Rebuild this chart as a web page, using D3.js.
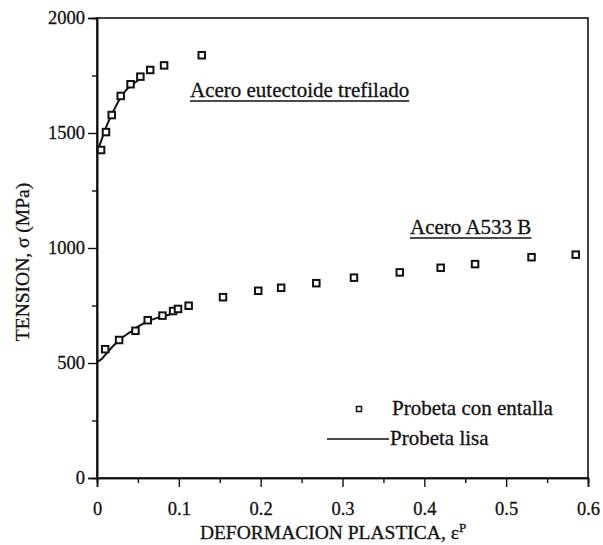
<!DOCTYPE html>
<html><head><meta charset="utf-8">
<script src="https://cdn.jsdelivr.net/npm/d3@7"></script>
<style>
body{margin:0;background:#fff}
text{font-family:"Liberation Serif","Times New Roman",serif;fill:#111;stroke:#111;stroke-width:0.3px}
</style>
</head><body>
<svg id="c" width="603" height="545"></svg>
<script>
// ---- data ----
const xTickValues = [0, 0.1, 0.2, 0.3, 0.4, 0.5, 0.6];
const xTickLabels = ["0", "0.1", "0.2", "0.3", "0.4", "0.5", "0.6"];
const yTickValues = [0, 500, 1000, 1500, 2000];
const yTickLabels = ["0", "500", "1000", "1500", "2000"];
const xMinor = [0.05, 0.15, 0.25, 0.35, 0.45, 0.55];
const yMinor = [250, 750, 1250, 1750];

// Acero eutectoide trefilado - Probeta con entalla (squares)
const eutStrain = [0.005, 0.011, 0.018, 0.029, 0.041, 0.053, 0.065, 0.082, 0.128];
const eutStress = [1426, 1504, 1578, 1661, 1712, 1745, 1774, 1794, 1838];
// Acero eutectoide trefilado - Probeta lisa (line)
const eutLineStrain = [0, 0.005, 0.01, 0.02, 0.03, 0.04, 0.05];
const eutLineStress = [1418, 1465, 1515, 1595, 1660, 1703, 1728];

// Acero A533 B - Probeta con entalla (squares)
const a533Strain = [0.010, 0.027, 0.047, 0.062, 0.080, 0.093, 0.099, 0.112, 0.154, 0.197, 0.225, 0.268, 0.314, 0.370, 0.420, 0.462, 0.531, 0.585];
const a533Stress = [560, 600, 640, 686, 706, 726, 735, 749, 786, 814, 827, 847, 871, 894, 914, 930, 960, 971];
// Acero A533 B - Probeta lisa (line)
const a533LineStrain = [0, 0.005, 0.01, 0.02, 0.03, 0.04, 0.05, 0.06, 0.07, 0.08, 0.09];
const a533LineStress = [505, 515, 535, 575, 608, 633, 658, 678, 692, 702, 712];

const seriesLabels = ["Probeta con entalla", "Probeta lisa"];
const annotEut = "Acero eutectoide trefilado";
const annotA533 = "Acero A533 B";

// ---- drawing ----
const svg = d3.select("#c");
const x = d3.scaleLinear().domain([0, 0.6]).range([97, 588]);
const y = d3.scaleLinear().domain([0, 2000]).range([478, 18]);
const FS = 18.5;   // tick labels
const FL = 21;     // annotations / legend
const FT = 19.5;   // axis titles

// frame
svg.append("rect").attr("x", x(0)).attr("y", y(2000))
  .attr("width", x(0.6) - x(0)).attr("height", y(0) - y(2000))
  .attr("fill", "none").attr("stroke", "#111").attr("stroke-width", 1.6);

// axes
const xAxis = svg.append("g").attr("transform", `translate(0,${y(0)})`)
  .call(d3.axisBottom(x).tickValues(xTickValues).tickSize(9).tickPadding(15)
    .tickFormat((d, i) => xTickLabels[i]));
const xMin = svg.append("g").attr("transform", `translate(0,${y(0)})`)
  .call(d3.axisBottom(x).tickValues(xMinor).tickSize(5).tickFormat(""));
const yAxis = svg.append("g").attr("transform", `translate(${x(0)},0)`)
  .call(d3.axisLeft(y).tickValues(yTickValues).tickSize(9).tickPadding(3)
    .tickFormat((d, i) => yTickLabels[i]));
const yMin = svg.append("g").attr("transform", `translate(${x(0)},0)`)
  .call(d3.axisLeft(y).tickValues(yMinor).tickSize(5).tickFormat(""));
[xAxis, xMin, yAxis, yMin].forEach(g => {
  g.attr("font-family", null);
  g.select(".domain").attr("stroke", "#111").attr("stroke-width", 1.6);
  g.selectAll(".tick line").attr("stroke", "#111").attr("stroke-width", 1.4);
  g.selectAll(".tick text").style("font-family", '"Liberation Serif","Times New Roman",serif')
    .style("font-size", FS + "px").attr("fill", "#111");
});

// axis titles
svg.append("text").attr("x", 333).attr("y", 539).attr("text-anchor", "middle")
  .style("font-size", FT + "px")
  .html('DEFORMACION PLASTICA, ε<tspan dy="-7" font-size="13">P</tspan>');
svg.append("text").attr("transform", "translate(29,262) rotate(-90)")
  .attr("text-anchor", "middle").style("font-size", FT + "px")
  .text("TENSION, σ (MPa)");

// lines
const line = d3.line().x(d => x(d[0])).y(d => y(d[1])).curve(d3.curveMonotoneX);
const eutLine = eutLineStrain.map((v, i) => [v, eutLineStress[i]]);
const a533Line = a533LineStrain.map((v, i) => [v, a533LineStress[i]]);
[eutLine, a533Line].forEach(d => {
  svg.append("path").datum(d).attr("d", line)
    .attr("fill", "none").attr("stroke", "#111").attr("stroke-width", 2);
});

// squares
const pts = eutStrain.map((v, i) => [v, eutStress[i]])
  .concat(a533Strain.map((v, i) => [v, a533Stress[i]]));
const S = 6.5;
svg.append("g").selectAll("rect").data(pts).join("rect")
  .attr("x", d => x(d[0]) - S / 2).attr("y", d => y(d[1]) - S / 2)
  .attr("width", S).attr("height", S)
  .attr("fill", "#fff").attr("stroke", "#111").attr("stroke-width", 2);

// annotations (underlined)
function underlined(tx, ty, str) {
  const t = svg.append("text").attr("x", tx).attr("y", ty).style("font-size", FL + "px").text(str);
  const w = t.node().getComputedTextLength();
  svg.append("line").attr("x1", tx).attr("x2", tx + w).attr("y1", ty + 4).attr("y2", ty + 4)
    .attr("stroke", "#111").attr("stroke-width", 1.5);
}
underlined(190, 97, annotEut);
underlined(410, 234, annotA533);

// legend
svg.append("rect").attr("x", 359 - 2.5).attr("y", 409 - 2.5).attr("width", 5).attr("height", 5)
  .attr("fill", "#fff").attr("stroke", "#111").attr("stroke-width", 1.5);
svg.append("text").attr("x", 392).attr("y", 415).style("font-size", FL + "px").text(seriesLabels[0]);
svg.append("line").attr("x1", 327).attr("x2", 389).attr("y1", 439).attr("y2", 439)
  .attr("stroke", "#111").attr("stroke-width", 1.4);
svg.append("text").attr("x", 390).attr("y", 445).style("font-size", FL + "px").text(seriesLabels[1]);
</script>
</body></html>
